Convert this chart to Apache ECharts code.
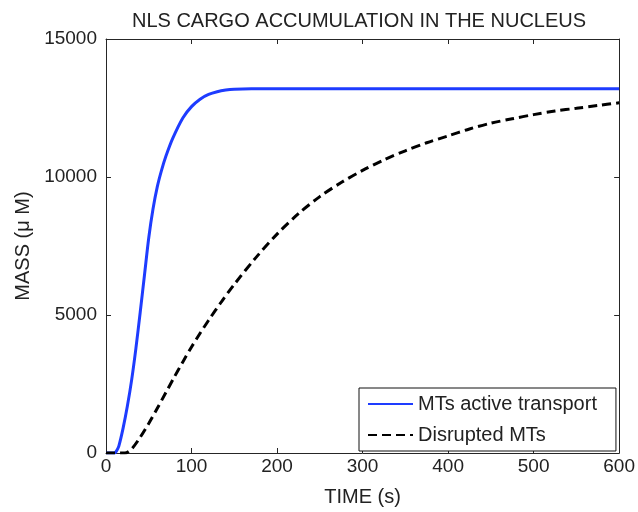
<!DOCTYPE html>
<html>
<head>
<meta charset="utf-8">
<script src="https://cdn.jsdelivr.net/npm/echarts@6/dist/echarts.min.js"></script>
<style>
html,body{margin:0;padding:0;background:#fff;}
#c{width:638px;height:512px;}
</style>
</head>
<body>
<div id="c"></div>
<script>
const titleText = 'NLS CARGO ACCUMULATION IN THE NUCLEUS';
const xName = 'TIME (s)';
const yName = 'MASS (\u03BC M)';
const seriesNames = ['MTs active transport', 'Disrupted MTs'];

const timeActive = [0, 10, 12, 15, 20, 25, 30, 35, 40, 45, 50, 55, 60, 65, 70, 78, 90, 100, 110, 120, 130, 140, 150, 170, 200, 300, 400, 500, 600];
const massActive = [0, 0, 60, 250, 900, 1700, 2650, 3800, 5100, 6450, 7800, 8850, 9650, 10250, 10750, 11400, 12150, 12550, 12820, 12990, 13090, 13150, 13180, 13198, 13200, 13200, 13200, 13200, 13200];

const timeDisrupted = [0, 22, 30, 40, 50, 60, 70, 80, 90, 100, 110, 120, 135, 150, 175, 200, 225, 250, 275, 300, 325, 350, 375, 400, 425, 450, 475, 500, 525, 550, 575, 600];
const massDisrupted = [0, 0, 150, 570, 1070, 1620, 2190, 2760, 3310, 3840, 4340, 4810, 5480, 6110, 7070, 7930, 8670, 9290, 9800, 10240, 10620, 10950, 11240, 11490, 11740, 11950, 12110, 12260, 12390, 12490, 12590, 12690];

const xTicks = {min: 0, max: 600, interval: 100};
const yTicks = {min: 0, max: 15000, interval: 5000};

const pairs = (xs, ys) => xs.map((x, i) => [x, ys[i]]);

const FONT = 'Liberation Sans';
const AX = '#262626';
const TXT = '#222';

const chart = echarts.init(document.getElementById('c'), null, {renderer: 'canvas'});

const baseAxis = {
  axisLine: {show: true, onZero: false, lineStyle: {color: AX, width: 1}},
  axisTick: {show: true, inside: true, length: 5, lineStyle: {color: AX, width: 1}},
  splitLine: {show: false},
};

chart.setOption({
  animation: false,
  backgroundColor: '#fff',
  title: {
    text: titleText,
    left: 354,
    top: 6,
    textAlign: 'center',
    textStyle: {fontFamily: FONT, fontSize: 20, fontWeight: 'normal', color: TXT}
  },
  grid: {left: 106, right: 16, top: 39, bottom: 57, containLabel: false},
  legend: {
    left: 359,
    top: 388,
    orient: 'vertical',
    backgroundColor: '#fff',
    borderColor: '#111',
    borderWidth: 1,
    borderRadius: 0,
    padding: [6, 19, 6, 8],
    itemWidth: 45,
    itemHeight: 18,
    itemGap: 11,
    itemStyle: {opacity: 0},
    textStyle: {fontFamily: FONT, fontSize: 20, color: TXT, lineHeight: 18},
    data: seriesNames
  },
  xAxis: [
    Object.assign({}, baseAxis, {
      type: 'value', position: 'bottom', min: xTicks.min, max: xTicks.max, interval: xTicks.interval,
      name: xName, nameLocation: 'middle', nameGap: 34,
      nameTextStyle: {fontFamily: FONT, fontSize: 20, color: TXT},
      axisLabel: {fontFamily: FONT, fontSize: 19, color: TXT, margin: 4, formatter: v => String(v)}
    }),
    Object.assign({}, baseAxis, {
      type: 'value', position: 'top', min: xTicks.min, max: xTicks.max, interval: xTicks.interval,
      axisLabel: {show: false}
    })
  ],
  yAxis: [
    Object.assign({}, baseAxis, {
      type: 'value', position: 'left', min: yTicks.min, max: yTicks.max, interval: yTicks.interval,
      name: yName, nameLocation: 'middle', nameGap: 67, nameRotate: 90,
      nameTextStyle: {fontFamily: FONT, fontSize: 20, color: TXT},
      axisLabel: {fontFamily: FONT, fontSize: 19, color: TXT, margin: 9, formatter: v => String(v)}
    }),
    Object.assign({}, baseAxis, {
      type: 'value', position: 'right', min: yTicks.min, max: yTicks.max, interval: yTicks.interval,
      axisLabel: {show: false}
    })
  ],
  series: [
    {
      name: seriesNames[0], type: 'line', xAxisIndex: 0, yAxisIndex: 0,
      data: pairs(timeActive, massActive),
      symbol: 'none', smooth: 0.3,
      lineStyle: {color: '#1e3cff', width: 3},
      itemStyle: {color: '#1e3cff'}
    },
    {
      name: seriesNames[1], type: 'line', xAxisIndex: 0, yAxisIndex: 0,
      data: pairs(timeDisrupted, massDisrupted),
      symbol: 'none', smooth: 0.3,
      lineStyle: {color: '#000', width: 3, type: [9, 5]},
      itemStyle: {color: '#000'}
    }
  ]
});
</script>
</body>
</html>
